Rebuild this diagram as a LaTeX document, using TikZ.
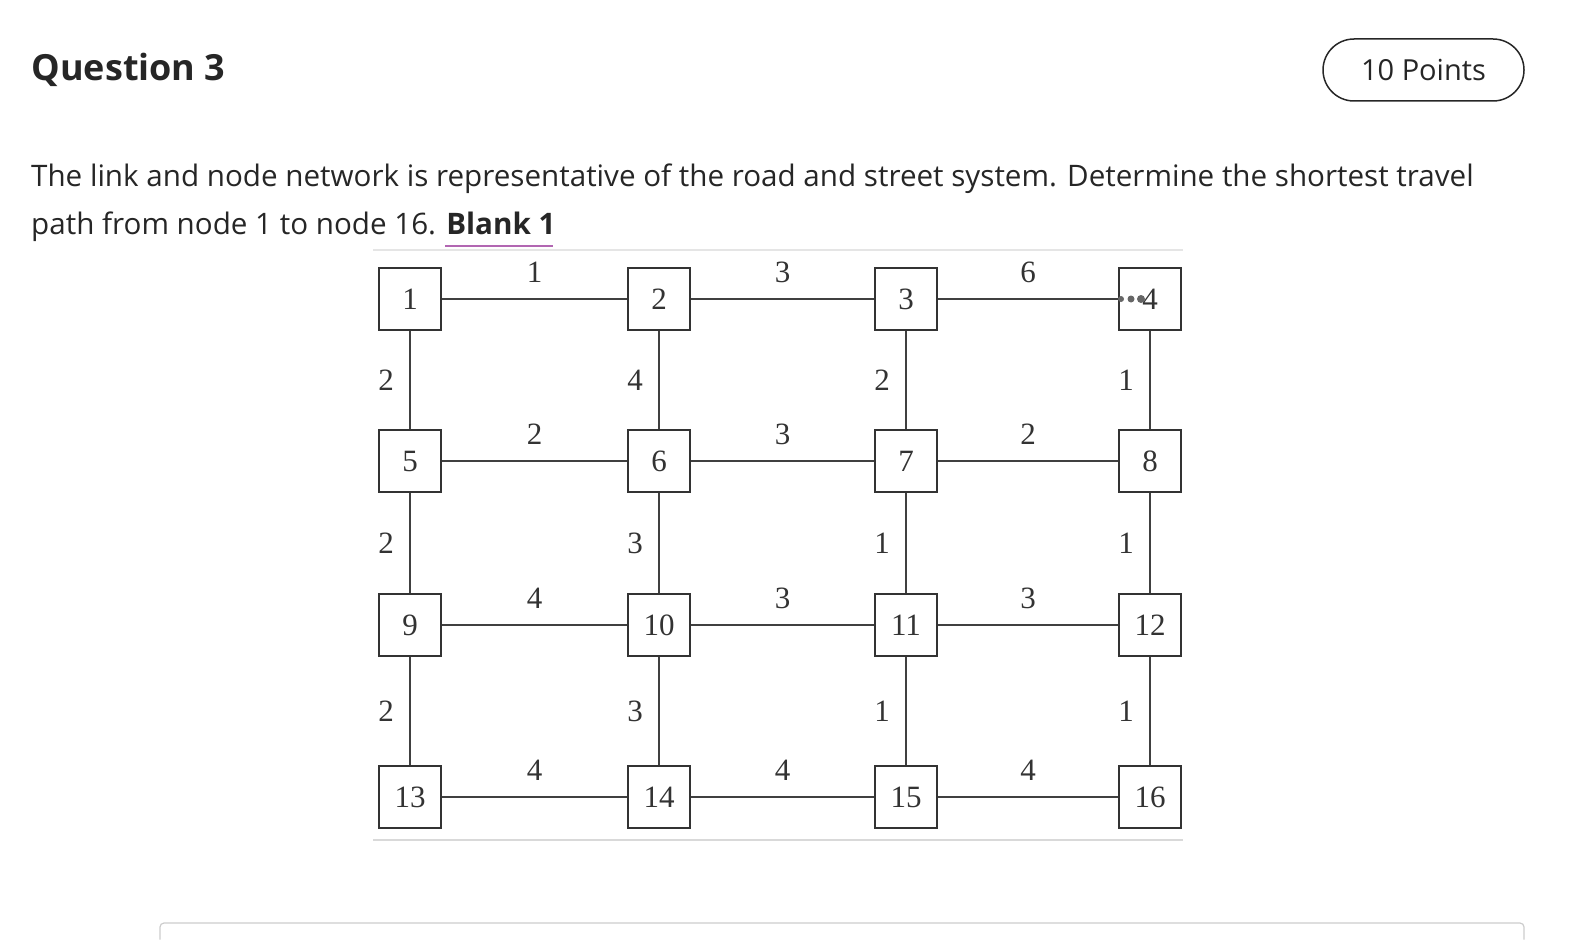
\documentclass[tikz,border=0pt]{standalone}
\usepackage{fontspec}
\setmainfont{Liberation Serif}
\newfontfamily\osans{Open Sans}
\begin{document}
\begin{tikzpicture}[x=1pt,y=-1pt,
  nbox/.style={draw=black!80,line width=1.6pt,minimum width=62pt,minimum height=62pt,inner sep=0pt,fill=white,font=\fontsize{31}{31}\selectfont,text=black!80},
  lnk/.style={draw=black!75,line width=1.4pt},
  wt/.style={font=\fontsize{31}{31}\selectfont,text=black!80,inner sep=0pt}]
\useasboundingbox (0,0) rectangle (1573,939);
\node[anchor=west,font=\osans\fontsize{36}{36}\selectfont\bfseries,text=black!85] (q) at (28,70) {Question 3};
\node[draw=black!85,line width=1.5pt,rounded corners=31pt,minimum width=201pt,minimum height=62pt,font=\osans\fontsize{29}{29}\selectfont,text=black!85] (pts) at (1423.5,70) {10 Points};
\node[anchor=west,font=\osans\fontsize{29.6}{29.6}\selectfont,text=black!85,inner sep=0pt] (l1) at (31,179) {The link and node network is representative of the road and street system. Determine the shortest travel};
\node[anchor=west,font=\osans\fontsize{29.6}{29.6}\selectfont,text=black!85,inner sep=0pt] (l2) at (31,227) {path from node 1 to node 16. \textbf{Blank 1}};
\draw[color=violet!60,line width=2pt] (445,246) -- (553,246);
\draw[black!10,line width=1.5pt] (373,250) -- (1183,250);
\draw[black!15,line width=2pt] (373,840) -- (1183,840);
\draw[black!20,line width=1.2pt,rounded corners=4pt] (160,939.5) -- (160,923) -- (1524,923) -- (1524,939.5);
\foreach \i/\x in {0/410,1/659,2/906,3/1150}{
  \foreach \j/\y in {0/299,1/461,2/625,3/797}{
    \pgfmathtruncatemacro{\n}{\j*4+\i+1}
    \coordinate (c\n) at (\x,\y);
  }}
\foreach \a/\b/\w in {1/2/1,2/3/3,3/4/6,5/6/2,6/7/3,7/8/2,9/10/4,10/11/3,11/12/3,13/14/4,14/15/4,15/16/4}{
  \draw[lnk] (c\a) -- (c\b) node[wt,midway,yshift=27pt] {\w};}
\foreach \a/\b/\w in {1/5/2,5/9/2,9/13/2,2/6/4,6/10/3,10/14/3,3/7/2,7/11/1,11/15/1,4/8/1,8/12/1,12/16/1}{
  \draw[lnk] (c\a) -- (c\b) node[wt,midway,xshift=-24pt] {\w};}
\foreach \n in {1,...,16}{\node[nbox] (n\n) at (c\n) {\n};}
\fill[black!60] (n4.center)++(-29,0) circle (3pt) ++(10,0) circle (3.5pt) ++(10,0) circle (4pt);
\end{tikzpicture}
\end{document}
